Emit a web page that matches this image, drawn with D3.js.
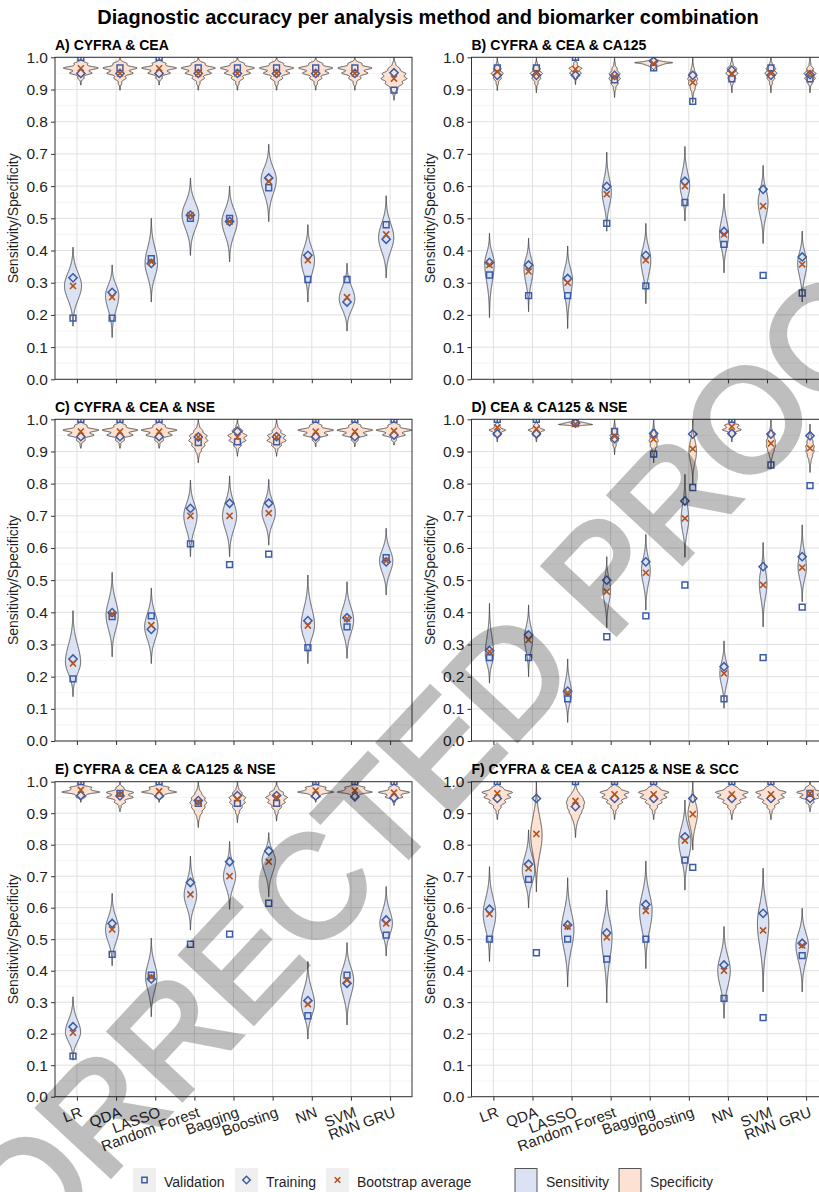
<!DOCTYPE html>
<html>
<head>
<meta charset="utf-8">
<script src="https://cdn.jsdelivr.net/npm/d3@7"></script>
<style>
  body { margin: 0; background: #fff; }
  svg { display: block; font-family: "Liberation Sans", Arial, sans-serif; }
</style>
</head>
<body>
<svg id="chart" width="819" height="1192"></svg>
<script>
// methods on the x axis, same for every panel
const methods = ["LR", "QDA", "LASSO", "Random Forest", "Bagging", "Boosting", "NN", "SVM", "RNN GRU"];
const panelTitles = ["A) CYFRA & CEA", "B) CYFRA & CEA & CA125", "C) CYFRA & CEA & NSE",
  "D) CEA & CA125 & NSE", "E) CYFRA & CEA & CA125 & NSE", "F) CYFRA & CEA & CA125 & NSE & SCC"];
const yTicks = [0, 0.1, 0.2, 0.3, 0.4, 0.5, 0.6, 0.7, 0.8, 0.9, 1.0];
// specificity is counted in steps of one control out of 60
const specStep = 1 / 60;

// violin shapes: [lowest, densest value, highest, relative peak density]
// markers: one value per method
// --- A
const sensShapeA = [[0.165,0.29,0.41,0.45],[0.13,0.26,0.355,0.35],[0.24,0.36,0.50,0.33],[0.385,0.51,0.625,0.44],[0.365,0.49,0.60,0.40],[0.49,0.62,0.73,0.40],[0.24,0.37,0.48,0.35],[0.15,0.25,0.36,0.41],[0.315,0.44,0.57,0.40]];
const specShapeA = [[0.914,0.967,1,0.92],[0.898,0.967,1,0.90],[0.914,0.967,1,0.92],[0.898,0.967,1,0.90],[0.898,0.967,1,0.90],[0.898,0.967,1,0.90],[0.898,0.967,1,0.90],[0.898,0.967,1,0.90],[0.867,0.94,1,0.68]];
const sensValA = [0.19,0.19,0.375,0.50,0.50,0.595,0.31,0.31,0.48];
const sensTrainA = [0.315,0.27,0.36,0.51,0.49,0.625,0.385,0.24,0.435];
const sensBootA = [0.29,0.255,0.365,0.51,0.49,0.615,0.37,0.255,0.45];
const specValA = [1.0,0.967,1.0,0.967,0.967,0.967,0.967,0.967,0.898];
const specTrainA = [0.95,0.95,0.95,0.95,0.95,0.95,0.95,0.95,0.952];
const specBootA = [0.966,0.95,0.966,0.95,0.95,0.95,0.95,0.95,0.934];
// --- B
const sensShapeB = [[0.192,0.36,0.453,0.25],[0.21,0.345,0.438,0.24],[0.158,0.31,0.414,0.25],[0.46,0.58,0.705,0.24],[0.235,0.37,0.484,0.26],[0.492,0.60,0.723,0.25],[0.331,0.45,0.576,0.24],[0.422,0.55,0.664,0.26],[0.24,0.36,0.46,0.24]];
const specShapeB = [[0.897,0.95,1,0.32],[0.89,0.95,1,0.32],[0.915,0.96,1,0.34],[0.875,0.94,1,0.30],[0.96,0.983,1,1.0],[0.86,0.93,1,0.26],[0.89,0.955,1,0.32],[0.89,0.955,1,0.32],[0.89,0.945,1,0.32]];
const sensValB = [0.324,0.26,0.26,0.484,0.29,0.549,0.419,0.323,0.268];
const sensTrainB = [0.363,0.355,0.313,0.599,0.385,0.615,0.459,0.59,0.38];
const sensBootB = [0.355,0.335,0.30,0.575,0.37,0.60,0.45,0.538,0.357];
const specValB = [0.967,0.967,1.0,0.93,0.967,0.863,0.933,0.967,0.933];
const specTrainB = [0.944,0.944,0.944,0.944,0.988,0.944,0.96,0.944,0.946];
const specBootB = [0.955,0.95,0.963,0.94,0.98,0.922,0.95,0.95,0.951];
// --- C
const sensShapeC = [[0.138,0.245,0.405,0.40],[0.262,0.39,0.524,0.32],[0.241,0.355,0.475,0.35],[0.573,0.70,0.811,0.35],[0.573,0.70,0.824,0.37],[0.609,0.71,0.813,0.35],[0.241,0.36,0.516,0.35],[0.257,0.375,0.495,0.35],[0.454,0.56,0.661,0.35]];
const specShapeC = [[0.91,0.965,1,0.94],[0.91,0.965,1,0.94],[0.91,0.965,1,0.94],[0.865,0.94,1,0.50],[0.885,0.945,1,0.50],[0.885,0.94,1,0.50],[0.915,0.965,1,0.94],[0.915,0.965,1,0.94],[0.92,0.965,1,0.94]];
const sensValC = [0.193,0.387,0.389,0.613,0.548,0.581,0.29,0.355,0.57];
const sensTrainC = [0.255,0.399,0.347,0.723,0.739,0.739,0.374,0.383,0.557];
const sensBootC = [0.241,0.395,0.36,0.70,0.70,0.708,0.359,0.38,0.56];
const specValC = [1.0,1.0,1.0,0.928,0.93,0.93,1.0,1.0,1.0];
const specTrainC = [0.946,0.946,0.946,0.945,0.962,0.946,0.946,0.946,0.951];
const specBootC = [0.962,0.962,0.962,0.945,0.945,0.945,0.962,0.962,0.964];
// --- D
const sensShapeD = [[0.18,0.27,0.428,0.22],[0.20,0.32,0.423,0.22],[0.058,0.15,0.255,0.20],[0.352,0.47,0.573,0.20],[0.407,0.53,0.642,0.23],[0.571,0.69,0.829,0.20],[0.102,0.21,0.311,0.22],[0.355,0.49,0.617,0.20],[0.433,0.54,0.672,0.22]];
const specShapeD = [[0.93,0.965,1,0.44],[0.93,0.965,1,0.44],[0.975,0.985,1,0.90],[0.89,0.945,1,0.24],[0.865,0.935,1,0.24],[0.80,0.90,1,0.20],[0.93,0.975,1,0.50],[0.845,0.925,1,0.24],[0.835,0.91,0.985,0.22]];
const sensValD = [0.259,0.259,0.131,0.324,0.389,0.485,0.131,0.259,0.416];
const sensTrainD = [0.281,0.33,0.155,0.50,0.557,0.746,0.231,0.542,0.573];
const sensBootD = [0.278,0.314,0.15,0.464,0.523,0.692,0.21,0.485,0.539];
const specValD = [1.0,1.0,0.99,0.962,0.892,0.788,1.0,0.858,0.794];
const specTrainD = [0.955,0.955,0.988,0.94,0.956,0.954,0.956,0.954,0.949];
const specBootD = [0.975,0.97,0.985,0.948,0.938,0.908,0.977,0.925,0.91];
// --- E
const sensShapeE = [[0.116,0.205,0.317,0.40],[0.416,0.53,0.645,0.35],[0.254,0.38,0.503,0.30],[0.529,0.64,0.764,0.33],[0.595,0.70,0.81,0.32],[0.635,0.75,0.838,0.35],[0.183,0.295,0.429,0.35],[0.228,0.37,0.489,0.35],[0.447,0.55,0.667,0.33]];
const specShapeE = [[0.935,0.972,1,1.0],[0.905,0.96,1,0.72],[0.935,0.972,1,0.92],[0.855,0.935,1,0.44],[0.87,0.945,1,0.44],[0.875,0.95,1,0.57],[0.935,0.972,1,0.95],[0.94,0.972,1,0.92],[0.925,0.965,1,0.82]];
const sensValE = [0.129,0.452,0.386,0.484,0.516,0.614,0.257,0.386,0.513];
const sensTrainE = [0.222,0.55,0.374,0.68,0.746,0.78,0.305,0.36,0.561];
const sensBootE = [0.203,0.531,0.38,0.642,0.70,0.746,0.294,0.37,0.55];
const specValE = [1.0,0.963,1.0,0.931,0.931,0.931,1.0,1.0,1.0];
const specTrainE = [0.956,0.955,0.955,0.94,0.956,0.956,0.955,0.952,0.949];
const specBootE = [0.974,0.96,0.97,0.935,0.945,0.95,0.972,0.972,0.965];
// --- F
const sensShapeF = [[0.429,0.58,0.73,0.33],[0.60,0.72,0.847,0.33],[0.349,0.53,0.695,0.33],[0.298,0.51,0.656,0.28],[0.407,0.59,0.748,0.33],[0.656,0.81,0.942,0.32],[0.249,0.40,0.54,0.33],[0.333,0.55,0.725,0.30],[0.333,0.48,0.598,0.33]];
const specShapeF = [[0.88,0.965,1,0.80],[0.651,0.83,1,0.30],[0.823,0.935,1,0.48],[0.88,0.965,1,0.76],[0.88,0.965,1,0.80],[0.783,0.90,1,0.25],[0.88,0.965,1,0.86],[0.88,0.965,1,0.80],[0.905,0.965,1,0.70]];
const sensValF = [0.50,0.69,0.50,0.437,0.50,0.751,0.312,0.251,0.448];
const sensTrainF = [0.595,0.738,0.545,0.52,0.61,0.825,0.418,0.582,0.487];
const sensBootF = [0.58,0.725,0.54,0.506,0.59,0.813,0.40,0.528,0.48];
const specValF = [1.0,0.457,1.0,1.0,1.0,0.728,1.0,1.0,0.963];
const specTrainF = [0.947,0.947,0.921,0.947,0.947,0.947,0.947,0.947,0.947];
const specBootF = [0.963,0.834,0.939,0.96,0.96,0.897,0.96,0.96,0.963];

const panels = [
  [sensShapeA, specShapeA, sensValA, sensTrainA, sensBootA, specValA, specTrainA, specBootA],
  [sensShapeB, specShapeB, sensValB, sensTrainB, sensBootB, specValB, specTrainB, specBootB],
  [sensShapeC, specShapeC, sensValC, sensTrainC, sensBootC, specValC, specTrainC, specBootC],
  [sensShapeD, specShapeD, sensValD, sensTrainD, sensBootD, specValD, specTrainD, specBootD],
  [sensShapeE, specShapeE, sensValE, sensTrainE, sensBootE, specValE, specTrainE, specBootE],
  [sensShapeF, specShapeF, sensValF, sensTrainF, sensBootF, specValF, specTrainF, specBootF]
];

// colours
const sensFill = "#dae2f3", specFill = "#fde2d3";
const blue = "#3b5ca8", rust = "#b5531d", ink = "#1f1f1f";

const svg = d3.select("#chart");

// panel frames (pixels)
const cols = [[55, 412], [471.5, 828]];
const rows = [[57.3, 379.3], [419.3, 741], [781.7, 1096.7]];

// half-width profile of one violin, max of 1 at the densest spot
function violinProfile(shape, spiky) {
  const [lo, peak, hi] = shape;
  const sLo = Math.max((peak - lo) / 3, 1e-4), sHi = Math.max((hi - peak) / 3, 1e-4);
  const bw = 0.25 * (sLo + sHi) / 2;
  const vs = d3.range(241).map(i => lo + (hi - lo) * i / 240);
  const raw = vs.map(v => {
    const s = v < peak ? sLo : sHi;
    let w = Math.exp(-0.5 * ((v - peak) / s) ** 2);
    if (spiky) {
      let m = 0;
      const k0 = Math.floor((v - 4 * bw) / specStep), k1 = Math.ceil((v + 4 * bw) / specStep);
      for (let k = k0; k <= k1; k++) m += Math.exp(-0.5 * ((v - k * specStep) / bw) ** 2);
      m *= bw * Math.sqrt(2 * Math.PI) / specStep;
      w *= 0.3 + 0.7 * m;
    }
    return w;
  });
  const mx = d3.max(raw);
  return vs.map((v, i) => ({ v: v, w: raw[i] / mx }));
}

const sq = d3.symbol(d3.symbolSquare, 34);
const xs = d3.symbol(d3.symbolTimes, 26);

panels.forEach((p, i) => {
  const col = i % 2, row = Math.floor(i / 2);
  const [x0, x1] = cols[col], [y0, y1] = rows[row];
  const x = d3.scalePoint().domain(methods).range([x0, x1]).padding(0.56);
  const y = d3.scaleLinear().domain([0, 1]).range([y1, y0]);
  const step = x.step();
  const dodge = 0.1 * step;
  const wScale = d3.scaleLinear().domain([0, 1]).range([0, 0.485 * step]);

  const g = svg.append("g");

  // grid
  const minor = d3.range(0.05, 1, 0.1);
  g.selectAll(".minor").data(minor).join("line")
    .attr("x1", x0).attr("x2", x1).attr("y1", d => y(d)).attr("y2", d => y(d))
    .attr("stroke", "#f0f0f0").attr("stroke-width", 0.7);
  g.selectAll(".major").data(yTicks).join("line")
    .attr("x1", x0).attr("x2", x1).attr("y1", d => y(d)).attr("y2", d => y(d))
    .attr("stroke", "#e0e0e0").attr("stroke-width", 1);
  g.selectAll(".vgrid").data(methods).join("line")
    .attr("x1", d => x(d)).attr("x2", d => x(d)).attr("y1", y0).attr("y2", y1)
    .attr("stroke", "#e0e0e0").attr("stroke-width", 1);

  // clip
  const clipId = "clip" + i;
  svg.append("clipPath").attr("id", clipId).append("rect")
    .attr("x", x0).attr("y", y0).attr("width", x1 - x0).attr("height", y1 - y0);
  const plot = g.append("g").attr("clip-path", "url(#" + clipId + ")");

  // violins
  const drawViolins = (shapes, off, fill, spiky) => {
    shapes.forEach((s, j) => {
      const cx = x(methods[j]) + off;
      const prof = violinProfile(s, spiky);
      const area = d3.area()
        .y(d => y(d.v))
        .x0(d => cx - wScale(d.w * s[3]))
        .x1(d => cx + wScale(d.w * s[3]));
      plot.append("path").attr("d", area(prof))
        .attr("fill", fill).attr("stroke", "#333").attr("stroke-width", 0.8);
    });
  };
  drawViolins(p[0], -dodge, sensFill, false);
  drawViolins(p[1], dodge, specFill, true);

  // markers
  const pts = (vals, off, kind) => {
    vals.forEach((v, j) => {
      const cx = x(methods[j]) + off, cy = y(v);
      if (kind === "val") {
        plot.append("path").attr("d", sq()).attr("transform", `translate(${cx},${cy})`)
          .attr("fill", "none").attr("stroke", blue).attr("stroke-width", 1.5);
      } else if (kind === "train") {
        plot.append("path").attr("d", sq()).attr("transform", `translate(${cx},${cy}) rotate(45)`)
          .attr("fill", "none").attr("stroke", blue).attr("stroke-width", 1.5);
      } else {
        plot.append("path").attr("d", xs()).attr("transform", `translate(${cx},${cy})`)
          .attr("fill", "none").attr("stroke", rust).attr("stroke-width", 1.6);
      }
    });
  };
  pts(p[2], -dodge, "val"); pts(p[5], dodge, "val");
  pts(p[3], -dodge, "train"); pts(p[6], dodge, "train");
  pts(p[4], -dodge, "boot"); pts(p[7], dodge, "boot");

  // frame
  g.append("rect").attr("x", x0).attr("y", y0).attr("width", x1 - x0).attr("height", y1 - y0)
    .attr("fill", "none").attr("stroke", "#333").attr("stroke-width", 1);

  // y axis
  const ya = g.append("g").attr("transform", `translate(${x0},0)`)
    .call(d3.axisLeft(y).tickValues(yTicks).tickFormat(d3.format(".1f")).tickSize(4).tickPadding(3));
  ya.select(".domain").remove();
  ya.selectAll("line").attr("stroke", "#333");
  ya.selectAll("text").attr("fill", ink).style("font-size", "15.5px").style("font-family", "Liberation Sans, Arial, sans-serif");

  // x axis
  const xa = g.append("g").attr("transform", `translate(0,${y1})`)
    .call(d3.axisBottom(x).tickSize(4).tickFormat(row === 2 ? d => d : () => ""));
  xa.select(".domain").remove();
  xa.selectAll("line").attr("stroke", "#333");
  xa.selectAll("text")
    .attr("x", 2).attr("y", 9).attr("dy", "0.75em")
    .attr("transform", "rotate(-20, 2, 9)")
    .style("text-anchor", "end")
    .attr("fill", ink).style("font-size", "15px").style("font-family", "Liberation Sans, Arial, sans-serif");

  // titles
  g.append("text").attr("x", x0).attr("y", y0 - 7.5)
    .style("font-weight", "bold").style("font-size", "14px").attr("fill", "#000")
    .text(panelTitles[i]);
  g.append("text")
    .attr("transform", `translate(${x0 - 37},${(y0 + y1) / 2}) rotate(-90)`)
    .attr("text-anchor", "middle").style("font-size", "14px").attr("fill", ink)
    .text("Sensitivity/Specificity");
});

// main title
svg.append("text").attr("x", 428).attr("y", 24).attr("text-anchor", "middle")
  .style("font-weight", "bold").style("font-size", "20px").attr("fill", "#000")
  .text("Diagnostic accuracy per analysis method and biomarker combination");

// legend
const legY = 1168, legH = 24;
const shapeKeys = [["Validation", 133, "val"], ["Training", 235, "train"], ["Bootstrap average", 326, "boot"]];
shapeKeys.forEach(([label, lx, kind]) => {
  svg.append("rect").attr("x", lx).attr("y", legY).attr("width", 23).attr("height", legH).attr("fill", "#efefef");
  const cx = lx + 11.5, cy = legY + 12;
  if (kind === "val") {
    svg.append("path").attr("d", d3.symbol(d3.symbolSquare, 28)()).attr("transform", `translate(${cx},${cy})`)
      .attr("fill", "none").attr("stroke", blue).attr("stroke-width", 1.5);
  } else if (kind === "train") {
    svg.append("path").attr("d", d3.symbol(d3.symbolSquare, 28)()).attr("transform", `translate(${cx},${cy}) rotate(45)`)
      .attr("fill", "none").attr("stroke", blue).attr("stroke-width", 1.5);
  } else {
    svg.append("path").attr("d", d3.symbol(d3.symbolTimes, 22)()).attr("transform", `translate(${cx},${cy})`)
      .attr("fill", "none").attr("stroke", rust).attr("stroke-width", 1.6);
  }
  svg.append("text").attr("x", lx + 31).attr("y", legY + 19).style("font-size", "14px").attr("fill", ink).text(label);
});
const fillKeys = [["Sensitivity", 515, sensFill], ["Specificity", 619, specFill]];
fillKeys.forEach(([label, lx, fill]) => {
  svg.append("rect").attr("x", lx).attr("y", legY + 0.5).attr("width", 22).attr("height", legH + 4)
    .attr("fill", fill).attr("stroke", "#555").attr("stroke-width", 1);
  svg.append("text").attr("x", lx + 31).attr("y", legY + 19).style("font-size", "14px").attr("fill", ink).text(label);
});

// watermark
svg.append("g").attr("opacity", 0.25)
  .append("text")
  .attr("transform", "translate(419,769) rotate(-47)")
  .attr("text-anchor", "middle").attr("dy", "0.36em")
  .style("font-size", "145px").attr("fill", "#000").attr("stroke", "#000").attr("stroke-width", 5)
  .text("CORRECTED PROOF");
</script>
</body>
</html>
